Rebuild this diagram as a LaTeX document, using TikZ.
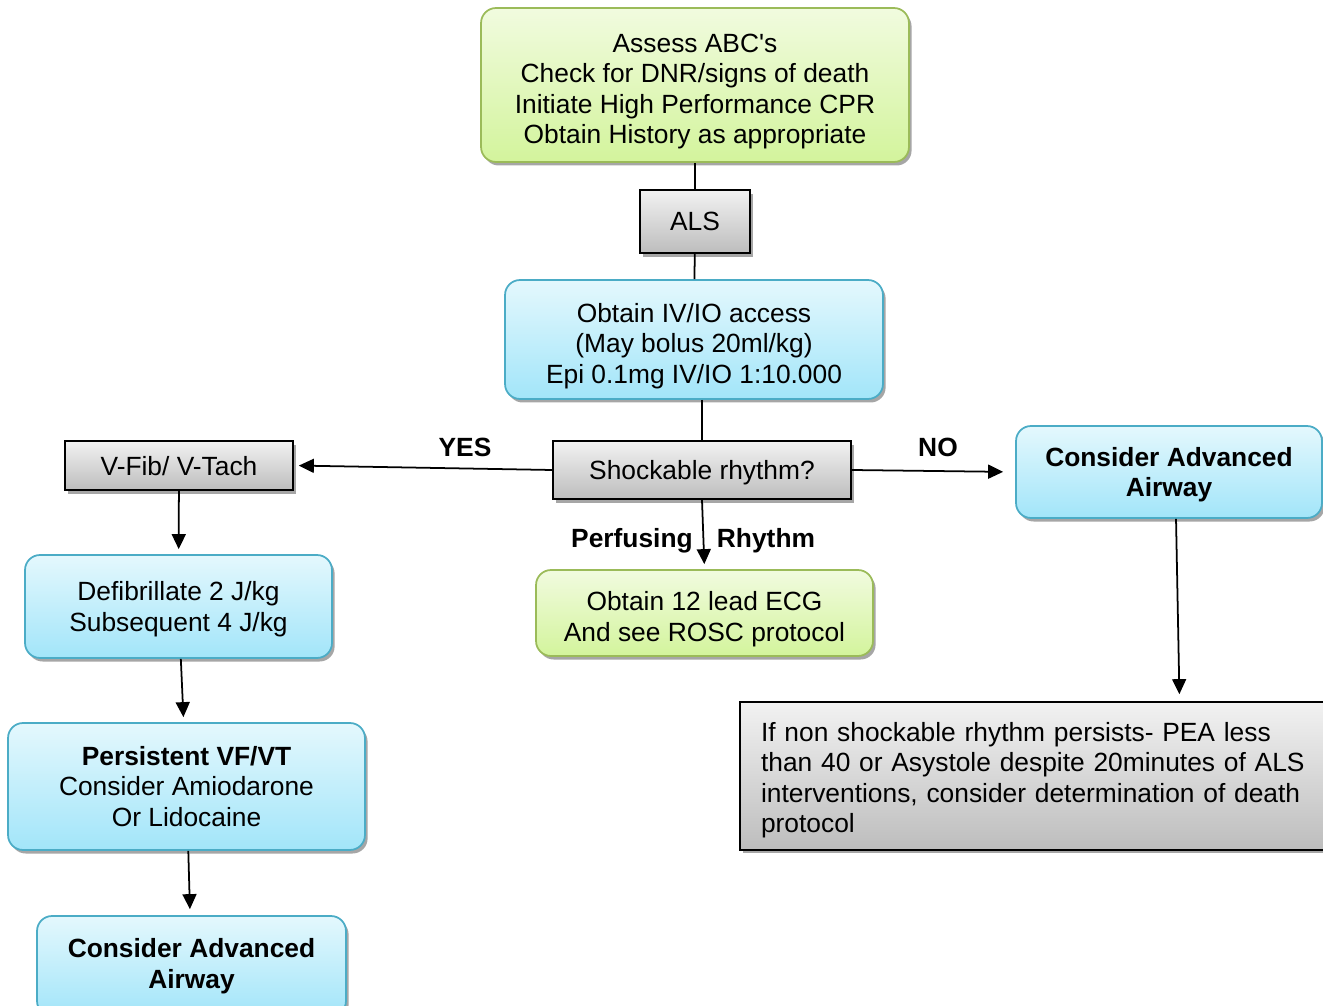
\documentclass[tikz,border=0pt]{standalone}
\usepackage{fontspec}
\setmainfont{Liberation Sans}
\usetikzlibrary{arrows.meta,shadows}

\definecolor{verdeborde}{HTML}{9BBB59}
\definecolor{verdearriba}{HTML}{F1FBDF}
\definecolor{verdeabajo}{HTML}{D3F49C}
\definecolor{azulborde}{HTML}{4BACC6}
\definecolor{azularriba}{HTML}{E4F8FD}
\definecolor{azulabajo}{HTML}{A2E5F9}
\definecolor{grisarriba}{HTML}{F2F2F2}
\definecolor{grisabajo}{HTML}{BDBDBD}

% primera linea un poco mas alta
\newcommand{\bajar}[1]{\rule{0pt}{#1}}

\tikzset{
  caja/.style={draw, line width=1pt, align=center, inner sep=2pt,
    font=\fontsize{15}{17.4}\selectfont,
    drop shadow={shadow xshift=1.5pt, shadow yshift=-2pt, opacity=0.35, fill=black}},
  verde/.style={caja, rounded corners=0.3cm, draw=verdeborde,
    top color=verdearriba, bottom color=verdeabajo},
  azul/.style={caja, rounded corners=0.3cm, draw=azulborde,
    top color=azularriba, bottom color=azulabajo},
  gris/.style={caja, draw=black, top color=grisarriba, bottom color=grisabajo},
  negrita/.style={font=\bfseries\fontsize{15}{17.4}\selectfont},
  linea/.style={line width=1pt},
  flecha/.style={line width=1pt, -{Triangle[length=0.3cm,width=0.28cm]}, shorten >=0.1cm},
  etiqueta/.style={font=\bfseries\fontsize{15}{17.4}\selectfont},
}

\begin{document}
\begin{tikzpicture}[x=0.02cm, y=-0.02cm]

    \useasboundingbox (0, 0) rectangle (1323, 1006);
    \clip (0, 0) rectangle (1323, 1006);

    % Cajas
    \node[verde, minimum width=8.56cm, minimum height=3.08cm] (abc) at (695, 85)
      {\bajar{18pt}Assess ABC\textquotesingle s\\ Check for DNR/signs of death\\ Initiate High Performance CPR\\ Obtain History as appropriate};
    \node[gris, minimum width=2.2cm, minimum height=1.26cm] (als) at (695, 221.5) {ALS};
    \node[azul, minimum width=7.56cm, minimum height=2.38cm] (acceso) at (694, 339.5)
      {\bajar{18pt}Obtain IV/IO access\\ (May bolus 20ml/kg)\\ Epi 0.1mg IV/IO 1:10.000};
    \node[gris, minimum width=5.96cm, minimum height=1.16cm, text depth=-0.2pt] (ritmo) at (702, 470) {Shockable rhythm?};
    \node[gris, minimum width=4.56cm, minimum height=0.98cm, text depth=-6.3pt] (vfib) at (179, 465.5) {V-Fib/ V-Tach};
    \node[azul, negrita, minimum width=6.12cm, minimum height=1.84cm, text depth=-0.2pt]
      (viaaerea) at (1169, 472) {Consider Advanced\\ Airway};
    \node[verde, minimum width=6.74cm, minimum height=1.72cm] (ecg) at (704.5, 613)
      {\bajar{18pt}Obtain 12 lead ECG\\ And see ROSC protocol};
    \node[azul, minimum width=6.14cm, minimum height=2.06cm, text depth=-0.2pt] (desfib) at (178.5, 606.5)
      {Defibrillate 2 J/kg\\ Subsequent 4 J/kg};
    \node[azul, minimum width=7.14cm, minimum height=2.54cm] (persiste) at (186.5, 786.5)
      {\textbf{Persistent VF/VT}\\ Consider Amiodarone\\ Or Lidocaine};
    \node[azul, negrita, minimum width=6.18cm, minimum height=2cm]
      (viaaerea2) at (191.5, 966) {Consider Advanced\\ Airway};
    \node[gris, minimum width=11.8cm, minimum height=2.96cm, align=left, text width=10.96cm,
      inner xsep=0.42cm] (muerte) at (1035, 776)
      {\bajar{15.5pt}If non shockable rhythm persists- PEA less\\ than 40 or Asystole despite 20minutes of ALS\\
       interventions, consider determination of death\\ protocol};

    % Lineas
    \draw[linea] (abc) -- (als);
    \draw[linea] (als) -- (acceso);
    \draw[linea] (acceso.south -| ritmo.north) -- (ritmo);

    % Flechas
    \draw[flecha] (ritmo.west) -- (vfib.east);
    \draw[flecha, shorten >=0.24cm] (ritmo.east) -- (viaaerea.west);
    \draw[flecha] (ritmo.south) -- (ecg.north);
    \draw[flecha] (vfib) -- (desfib);
    \draw[flecha] (desfib) -- (persiste);
    \draw[flecha, shorten >=0.12cm] (persiste) -- (viaaerea2);
    \draw[flecha, shorten >=0.14cm] ([xshift=4pt]viaaerea.south) -- ([xshift=6pt]viaaerea.south |- muerte.north);

    % Etiquetas
    \node[etiqueta] (si) at (465, 447) {YES};
    \node[etiqueta] (no) at (938, 447) {NO};
    \node[etiqueta] (perf) at (632, 541) {Perfusing};
    \node[etiqueta] (rit) at (766, 541) {Rhythm};

  \end{tikzpicture}
\end{document}
